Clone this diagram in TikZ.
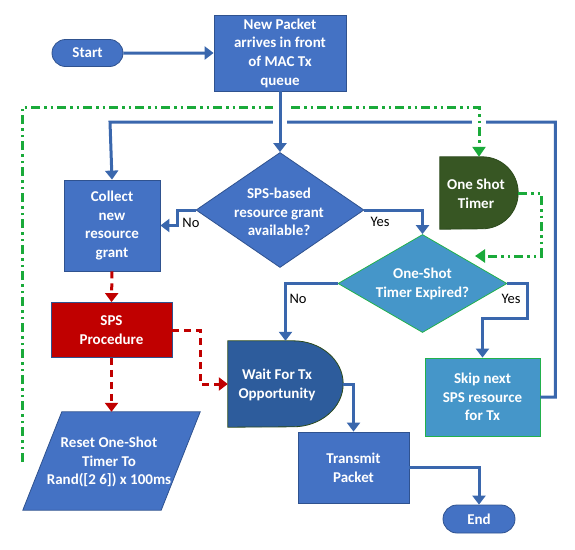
\documentclass[tikz,border=0pt]{standalone}
\usepackage{fontspec}
\setmainfont{Carlito}
\usetikzlibrary{arrows.meta,shapes.geometric,shapes.misc,calc,backgrounds}

\definecolor{boxblue}{HTML}{4472C4}
\definecolor{edgeblue}{HTML}{2F528F}
\definecolor{flowblue}{HTML}{3A67AD}
\definecolor{waitblue}{HTML}{2D5C9C}
\definecolor{lightblue}{HTML}{4596C9}
\definecolor{rimgreen}{HTML}{22B14C}
\definecolor{timergreen}{HTML}{375623}
\definecolor{timeredge}{HTML}{2B4A1B}
\definecolor{spsred}{HTML}{C00000}
\definecolor{loopgreen}{HTML}{1AAA3A}

\tikzset{
  txt/.style={font=\fontsize{15}{18.7}\selectfont\bfseries, text=white, align=center, inner sep=0pt},
  procbox/.style={txt, rectangle, draw=edgeblue, line width=0.8pt, fill=boxblue},
  pill/.style={txt, rounded rectangle, draw=edgeblue, line width=0.8pt, fill=boxblue},
  decision/.style={diamond, inner sep=0pt, line width=0.8pt},
  frame/.style={rectangle, inner sep=0pt},
  branchlabel/.style={font=\fontsize{14.5}{17}\selectfont, text=black, inner sep=0pt},
  flow/.style={draw=flowblue, line width=3pt, -{Triangle[width=13pt,length=9pt]}},
  reddash/.style={draw=spsred, line width=3pt, dash pattern=on 7pt off 5pt, -{Triangle[width=13pt,length=9pt]}},
  greenloop/.style={draw=loopgreen, line width=3pt, dash pattern=on 9pt off 4pt on 2.5pt off 4pt on 2.5pt off 4pt, -{Triangle[width=13pt,length=10pt]}},
  gapmark/.style={draw=white, line width=14pt}
}

\begin{document}
\begin{tikzpicture}[x=1pt,y=-1pt]
\useasboundingbox (0,0) rectangle (575,549);

% --- nodes ---
\node[pill, minimum width=71pt, minimum height=27pt] (start) at (87.5,53) {Start};
\node[procbox, minimum width=132pt, minimum height=76pt] (newpkt) at (280,53)
  {New Packet\\arrives in front\\of MAC Tx\\queue};
\node[decision, fill=boxblue, draw=edgeblue, minimum width=168pt, minimum height=115pt] (dec1) at (280,210) {};
\node[txt] (dec1text) at (279,212) {SPS-based\\resource grant\\available?};
\node[procbox, minimum width=96pt, minimum height=91pt] (collect) at (112,225.5)
  {Collect\\new\\resource\\grant};
\node[procbox, fill=spsred, minimum width=121pt, minimum height=55pt] (sps) at (111.5,330)
  {SPS\\Procedure};
\node[frame, minimum width=177pt, minimum height=98pt] (reset) at (111.5,461) {};
\node[txt] (resettext) at (109,462) {Reset One-Shot\\Timer To\\Rand([2 6]) x 100ms};
\node[frame, minimum width=78pt, minimum height=72pt] (timer) at (479,193) {};
\node[txt] (timertext) at (476,194) {One Shot\\Timer};
\node[decision, fill=lightblue, draw=rimgreen, minimum width=169pt, minimum height=98pt] (dec2) at (422.5,283.5) {};
\node[txt] (dec2text) at (422.5,284) {One-Shot\\Timer Expired?};
\node[frame, minimum width=115pt, minimum height=86pt] (wait) at (285.5,384) {};
\node[txt] (waittext) at (277,385) {Wait For Tx\\Opportunity};
\node[procbox, fill=lightblue, draw=rimgreen, minimum width=115pt, minimum height=78pt] (skip) at (482.5,397)
  {Skip next\\SPS resource\\for Tx};
\node[procbox, minimum width=111pt, minimum height=71pt] (transmit) at (353.5,467.5)
  {Transmit\\Packet};
\node[pill, minimum width=72pt, minimum height=28pt] (endn) at (479,519) {End};
\coordinate (loopstart) at (22,462);
\coordinate (timerin) at (475,256);

% --- shapes drawn behind their nodes ---
\begin{scope}[on background layer]
  \filldraw[fill=timergreen, draw=timeredge, line width=0.8pt]
    (timer.north west) -- ([xshift=-36pt]timer.north east)
    arc[start angle=90, end angle=-90, x radius=36pt, y radius=36pt]
    -- (timer.south west) -- cycle;
  \filldraw[fill=waitblue, draw=timeredge, line width=0.8pt]
    (wait.north west) -- ([xshift=-50pt]wait.north east)
    arc[start angle=90, end angle=-90, x radius=50pt, y radius=43pt]
    -- (wait.south west) -- cycle;
  \filldraw[fill=boxblue, draw=edgeblue, line width=0.8pt]
    ([xshift=39pt]reset.north west) -- (reset.north east)
    -- ([xshift=-39pt]reset.south east) -- (reset.south west) -- cycle;
\end{scope}

% --- branch labels ---
\node[branchlabel] (no1) at (191,223) {No};
\node[branchlabel] (yes1) at (380,222) {Yes};
\node[branchlabel] (no2) at (298,299) {No};
\node[branchlabel] (yes2) at (511,299) {Yes};

% --- connectors ---
\draw[flow] (start) -- (newpkt);
\draw[flow] (skip.east) -- ++(15,0) |- (110,122) -- (collect.north);
\draw[gapmark] ([yshift=42pt]timer.north) -- ([yshift=28pt]timer.north);
\draw[greenloop] (loopstart) |- (22,107) -| (timer.north);
\draw[greenloop] (timer.east) -- ++(23,0) |- (timerin);
\draw[gapmark] ([yshift=-5pt]newpkt.south) -- ([yshift=-38pt]newpkt.south);
\draw[flow] (newpkt.south) -- (dec1.north);
\draw[flow] (dec1.west) -- ++(-18,0) |- (collect.east);
\draw[flow] (dec1.east) -| (dec2.north);
\draw[flow] (dec2.west) -| (wait.north);
\draw[flow] (dec2.east) -- ++(20,0) -- ++(0,35) -| (skip.north);
\draw[reddash] (collect.south) -- (sps.north);
\draw[reddash] (sps.south) -- (reset.north);
\draw[reddash] (sps.east) -- ++(28,0) |- (wait.west);
\draw[flow] (wait.east) -| (transmit.north);
\draw[flow] (transmit.east) -| (endn.north);
\end{tikzpicture}
\end{document}
